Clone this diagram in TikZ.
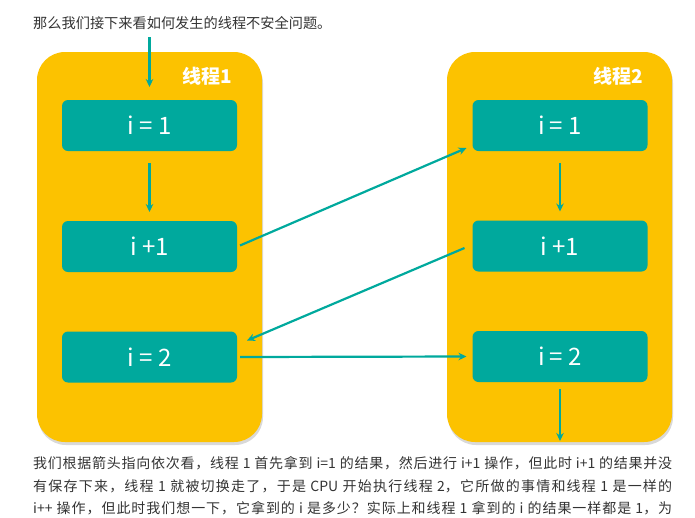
\documentclass[tikz,border=0pt]{standalone}
\usepackage{fontspec}
\setmainfont{Noto Sans CJK SC}
\usetikzlibrary{positioning,arrows.meta,shadows}
\definecolor{threadyellow}{HTML}{FCC200}
\definecolor{opteal}{HTML}{00A99D}
\definecolor{bodygray}{HTML}{333333}
\tikzset{
    thread/.style={fill=threadyellow,rounded corners=28pt,minimum width=225pt,minimum height=390pt,outer sep=0pt,
        drop shadow={shadow xshift=1pt,shadow yshift=-3pt,opacity=0.3}},
    opbox/.style={fill=opteal,rounded corners=6pt,minimum width=175pt,minimum height=51pt,outer sep=0pt,
        text=white,font=\fontsize{24}{24}\selectfont},
    threadname/.style={text=white,inner sep=0pt,font=\fontsize{19}{19}\selectfont\bfseries},
    flow/.style={draw=opteal,line width=2.2pt,-{Stealth[length=8pt,width=7.5pt]}},
    bodyline/.style={anchor=west,inner sep=0pt,text=bodygray,font=\fontsize{14}{14}\selectfont}
}
% classes for CJK characters and full-width punctuation
\newcount\cjkcode
\cjkcode="4E00
\loop
  \XeTeXcharclass\cjkcode=1
  \advance\cjkcode by 1
\ifnum\cjkcode<"A000 \repeat
\XeTeXcharclass"FF0C=3
\XeTeXcharclass"FF1F=3
\XeTeXcharclass"3002=3
% stretchable glue between CJK characters, so that a line can be spread
\newcommand{\cjkglue}{\hskip 0pt plus 1.5pt\relax}
\XeTeXinterchartoks 1 1 = {\cjkglue}
\XeTeXinterchartoks 0 1 = {\cjkglue}
\XeTeXinterchartoks 1 0 = {\cjkglue}
\XeTeXinterchartoks 1 3 = {\cjkglue}
\XeTeXinterchartoks 3 1 = {\cjkglue}
\newcommand{\fullline}[1]{{\XeTeXinterchartokenstate=1 \makebox[639pt][s]{#1}}}
\begin{document}
\begin{tikzpicture}[x=1pt,y=-1pt]
        \useasboundingbox (0,0) rectangle (695,517);
        \node[bodyline] (intro) at (33,23) {\fontsize{14.2}{14.2}\selectfont 那么我们接下来看如何发生的线程不安全问题。};
        % two threads
        \node[thread] (th1) at (149.5,247) {};
        \node[thread] (th2) at (559.5,247) {};
        \node[threadname,anchor=east] (name1) at (232,76) {线程1};
        \node[threadname,anchor=east] (name2) at (643,76) {线程2};
        % steps
        \node[opbox] (l1) at (149.5,125.5) {i = 1};
        \node[opbox] (l2) at (149.5,246.5) {i +1};
        \node[opbox] (l3) at (149.5,357) {i = 2};
        \node[opbox] (r1) at (560,125.5) {i = 1};
        \node[opbox] (r2) at (560,246) {i +1};
        \node[opbox] (r3) at (560,356.5) {i = 2};
        \coordinate (start) at (149.5,37);
        \coordinate (finish) at (560,441);
        \draw[flow,shorten >=13pt] (start) -- (l1);
        \draw[flow,shorten <=12pt,shorten >=9pt] (l1) -- (l2);
        \draw[flow,shorten <=12pt,shorten >=9pt] (r1) -- (r2);
        \draw[flow,shorten <=7pt] (r3) -- (finish);
        \draw[flow] ([xshift=3pt,yshift=1pt]l2.east) -- ([xshift=-6pt,yshift=3pt]r1.south west);
        \draw[flow] ([xshift=-8pt,yshift=-2pt]r2.west) -- ([xshift=10pt,yshift=-9pt]l3.north east);
        \draw[flow] ([xshift=3pt]l3.east) -- ([xshift=-6pt]r3.west);
        % text below
        \node[bodyline] (line1) at (33,463) {\fullline{我们根据箭头指向依次看，线程 1 首先拿到 i=1 的结果，然后进行 i+1 操作，但此时 i+1 的结果并没}};
        \node[bodyline] (line2) at (33,486) {\fullline{有保存下来，线程 1 就被切换走了，于是 CPU 开始执行线程 2，它所做的事情和线程 1 是一样的}};
        \node[bodyline] (line3) at (33,508) {\fullline{i++ 操作，但此时我们想一下，它拿到的 i 是多少？实际上和线程 1 拿到的 i 的结果一样都是 1，为}};
\end{tikzpicture}
\end{document}
